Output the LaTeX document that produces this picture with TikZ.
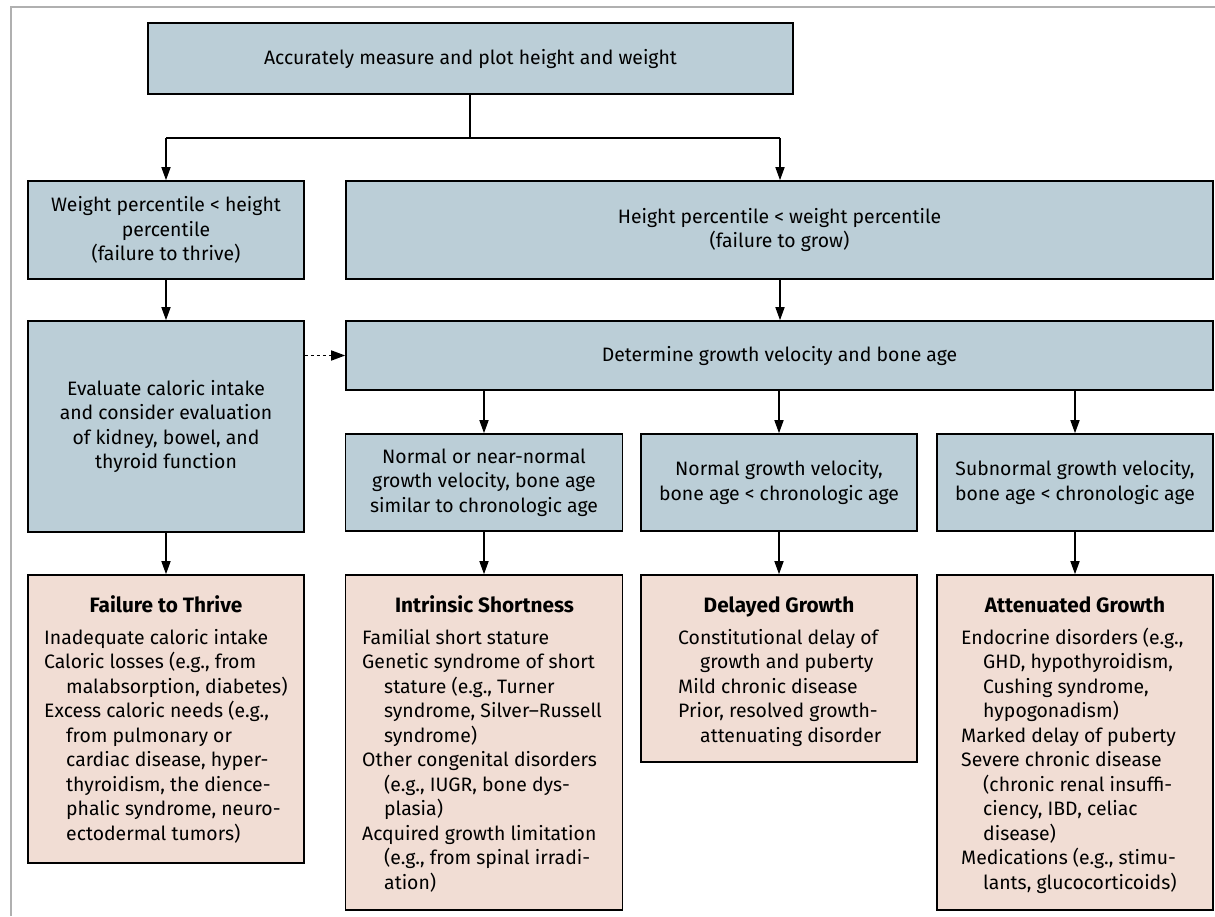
\documentclass[tikz,border=0pt]{standalone}
\usepackage{fontspec}
\setmainfont{Fira Sans}
\usetikzlibrary{arrows.meta}
\definecolor{boxblue}{RGB}{187,206,215}
\definecolor{boxpink}{RGB}{241,221,212}
\definecolor{framegray}{RGB}{176,176,176}
\newcommand\fsz{\fontsize{19.4}{24.5}\selectfont}
\newcommand\tsz{\fontsize{20.8}{24.5}\selectfont}
\newcommand\litem[1]{\par\hangindent=22pt\hangafter=1 #1}
\newcommand\bodytext[1]{\parbox[t]{300pt}{\fsz\rightskip=0pt plus 1fil\relax\parindent=0pt #1}}
\tikzset{
  bluebox/.style={draw=black, line width=1.6pt, fill=boxblue, align=center, inner sep=0pt, font=\fsz},
  pinkbox/.style={draw=black, line width=1.6pt, fill=boxpink, inner sep=0pt},
  boxtitle/.style={anchor=base, inner sep=0pt, font=\tsz\bfseries},
  boxbody/.style={anchor=base west, inner sep=0pt},
  conn/.style={line width=1.5pt},
  arr/.style={line width=1.5pt, -{Triangle[length=13pt,width=9pt]}},
  dotarr/.style={line width=1.6pt, dash pattern=on 3.5pt off 2.5pt, -{Triangle[length=14pt,width=10pt]}},
}
\begin{document}
\begin{tikzpicture}[x=1pt,y=-1pt]
\useasboundingbox (0,0) rectangle (1215,916);
\draw[framegray, line width=1.5pt] (11,916) -- (11,7) -- (1215,7);

% blue boxes
\node[bluebox, minimum width=645pt, minimum height=71pt] (top) at (470.5,58.5) {Accurately measure and plot height and weight};
\node[bluebox, minimum width=276pt, minimum height=98pt] (wp) at (166,230) {Weight percentile < height\\percentile\\(failure to thrive)};
\node[bluebox, minimum width=867pt, minimum height=98pt] (hp) at (779.5,230) {Height percentile < weight percentile\\(failure to grow)};
\node[bluebox, minimum width=276pt, minimum height=211pt] (eval) at (166,426.5) {Evaluate caloric intake\\and consider evaluation\\of kidney, bowel, and\\thyroid function};
\node[bluebox, minimum width=867pt, minimum height=69pt] (det) at (779.5,355.5) {Determine growth velocity and bone age};
\node[bluebox, minimum width=277pt, minimum height=97pt] (ng) at (484,482.5) {Normal or near-normal\\growth velocity, bone age\\similar to chronologic age};
\node[bluebox, minimum width=276pt, minimum height=97pt] (ngv) at (779,482.5) {Normal growth velocity,\\bone age < chronologic age};
\node[bluebox, minimum width=276pt, minimum height=97pt] (sgv) at (1075,482.5) {Subnormal growth velocity,\\bone age < chronologic age};

% pink boxes
\node[pinkbox, minimum width=276pt, minimum height=288pt] (ftt) at (166,719) {};
\node[pinkbox, minimum width=277pt, minimum height=335pt] (is) at (484,742.5) {};
\node[pinkbox, minimum width=276pt, minimum height=187pt] (dg) at (779,668.5) {};
\node[pinkbox, minimum width=276pt, minimum height=335pt] (ag) at (1075,742.5) {};

\node[boxtitle] (fttt) at (166,612) {Failure to Thrive};
\node[boxtitle] (ist) at (484.5,612) {Intrinsic Shortness};
\node[boxtitle] (dgt) at (779,612) {Delayed Growth};
\node[boxtitle] (agt) at (1075,612) {Attenuated Growth};

\node[boxbody] (fttb) at (44,644) {\bodytext{%
\litem{Inadequate caloric intake}
\litem{Caloric losses (e.g., from\\malabsorption, diabetes)}
\litem{Excess caloric needs (e.g.,\\from pulmonary or\\cardiac disease, hyper-\\thyroidism, the dience-\\phalic syndrome, neuro-\\ectodermal tumors)}}};

\node[boxbody] (isb) at (362,644) {\bodytext{%
\litem{Familial short stature}
\litem{Genetic syndrome of short\\stature (e.g., Turner\\syndrome, Silver--Russell\\syndrome)}
\litem{Other congenital disorders\\(e.g., IUGR, bone dys-\\plasia)}
\litem{Acquired growth limitation\\(e.g., from spinal irradi-\\ation)}}};

\node[boxbody] (dgb) at (678,644) {\bodytext{%
\litem{Constitutional delay of\\growth and puberty}
\litem{Mild chronic disease}
\litem{Prior, resolved growth-\\attenuating disorder}}};

\node[boxbody] (agb) at (961,644) {\bodytext{%
\litem{Endocrine disorders (e.g.,\\GHD, hypothyroidism,\\Cushing syndrome,\\hypogonadism)}
\litem{Marked delay of puberty}
\litem{Severe chronic disease\\(chronic renal insuffi-\\ciency, IBD, celiac\\disease)}
\litem{Medications (e.g., stimu-\\lants, glucocorticoids)}}};

% connectors
\coordinate (jl) at (166,138);
\coordinate (jr) at (780,138);
\coordinate (jm) at (470,138);
\draw[conn] (jm |- top.south) -- (jm);
\draw[conn] (jl) -- (jr);
\draw[arr] (jl) -- (wp.north);
\draw[arr] (jr) -- (jr |- hp.north);
\draw[arr] (wp.south) -- (eval.north);
\draw[arr] (jr |- hp.south) -- (jr |- det.north);
\draw[dotarr] (eval.east |- det.west) -- (det.west);
\draw[arr] (ng.north |- det.south) -- (ng.north);
\draw[arr] (ngv.north |- det.south) -- (ngv.north);
\draw[arr] (sgv.north |- det.south) -- (sgv.north);
\draw[arr] (eval.south) -- (ftt.north);
\draw[arr] (ng.south) -- (is.north);
\draw[arr] (ngv.south) -- (dg.north);
\draw[arr] (sgv.south) -- (ag.north);
\end{tikzpicture}
\end{document}
